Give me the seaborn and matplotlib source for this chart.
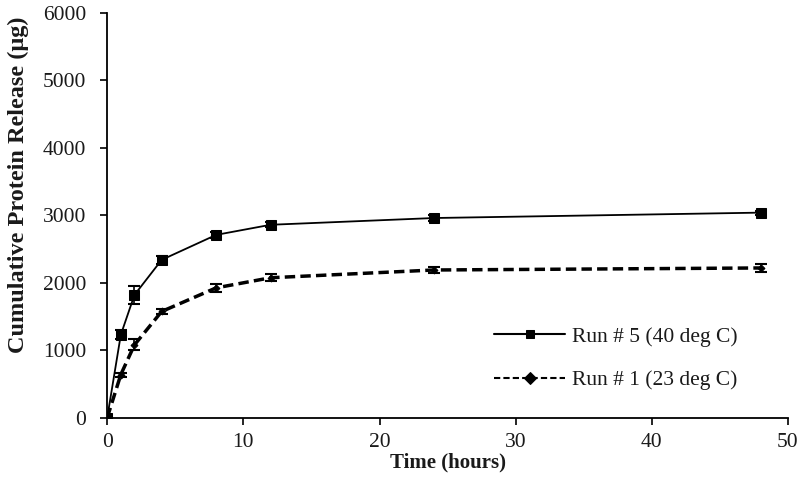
import numpy as np
import pandas as pd
import matplotlib
matplotlib.use('Agg')
import matplotlib.pyplot as plt
import seaborn as sns

# values
hours = [0, 1, 2, 4, 8, 12, 24, 48]
run5_release = [0, 1230, 1820, 2340, 2710, 2860, 2960, 3040]
run5_err = [0, 70, 130, 60, 50, 40, 40, 30]
run1_release = [0, 640, 1080, 1575, 1925, 2075, 2190, 2220]
run1_err = [0, 30, 80, 30, 60, 50, 40, 60]
labels = ['Run # 5 (40 deg C)', 'Run # 1 (23 deg C)']

df = pd.DataFrame({
    'time': hours * 2,
    'release': run5_release + run1_release,
    'err': run5_err + run1_err,
    'run': [labels[0]] * len(hours) + [labels[1]] * len(hours),
})

sns.set_style('ticks')
plt.rcParams['font.family'] = ['Liberation Serif', 'DejaVu Serif']

fig = plt.figure(figsize=(8, 4.95), dpi=100)
ax = fig.add_axes([0.134, 0.156, 0.851, 0.818])

sns.lineplot(data=df, x='time', y='release', hue='run', style='run',
             palette=['black', 'black'], markers=['s', 'D'],
             dashes=[(None, None), (3, 1.5)], ax=ax, legend=True,
             markeredgecolor='black')
lines = ax.get_lines()
lines[0].set_linewidth(1.3)
lines[0].set_markersize(7)
lines[1].set_linewidth(2.5)
lines[1].set_markersize(3.5)

for lab in labels:
    sub = df[df['run'] == lab]
    ax.errorbar(sub['time'], sub['release'], yerr=sub['err'], fmt='none',
                ecolor='black', elinewidth=1.2, capsize=4, capthick=1.5)

ax.set_xlim(0, 50)
ax.set_ylim(0, 6000)
ax.set_xticks(range(0, 51, 10))
ax.set_yticks(range(0, 6001, 1000))
ax.tick_params(labelsize=15.5, length=5, width=1.2, colors='black',
               labelcolor='#1a1a1a')
ax.tick_params(axis='y', pad=10)
ax.tick_params(axis='x', pad=6)
ax.set_xlabel('Time (hours)', fontsize=15, fontweight='bold', labelpad=0,
              color='#1a1a1a')
ax.set_ylabel('Cumulative Protein Release (μg)', fontsize=17.5,
              fontweight='bold', color='#1a1a1a')
ax.yaxis.set_label_coords(-0.115, 0.575)
sns.despine(ax=ax)
for s in ['left', 'bottom']:
    ax.spines[s].set_linewidth(1.3)
    ax.spines[s].set_color('black')

leg = ax.legend(loc='lower left', bbox_to_anchor=(0.54, 0.02), frameon=False,
                fontsize=15.5, handlelength=3.3, labelspacing=1.1,
                handletextpad=0.3)
for h in leg.get_lines():
    h.set_color('black')
for t in leg.get_texts():
    t.set_color('#1a1a1a')

fig.savefig('out.png', dpi=100)
